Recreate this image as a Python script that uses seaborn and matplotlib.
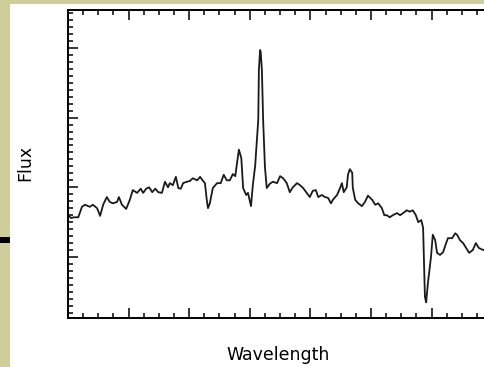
import pandas as pd
import seaborn as sns
import matplotlib.pyplot as plt
from matplotlib.patches import Rectangle
from matplotlib.ticker import MultipleLocator

# spectrum (arbitrary units)
wavelength = [0.00, 0.05, 0.10, 0.17, 0.23, 0.28, 0.36, 0.41, 0.48, 0.53, 0.58, 0.64, 0.69, 0.74,
              0.81, 0.84, 0.89, 0.96, 1.02, 1.07, 1.14, 1.20, 1.24, 1.29, 1.34, 1.39, 1.44, 1.49,
              1.55, 1.60, 1.65, 1.68, 1.73, 1.78, 1.82, 1.86, 1.90, 1.96, 2.01, 2.06, 2.13, 2.18,
              2.23, 2.26, 2.29, 2.31, 2.34, 2.39, 2.46, 2.52, 2.57, 2.62, 2.67, 2.72, 2.76, 2.79,
              2.82, 2.86, 2.89, 2.94, 2.97, 3.02, 3.05, 3.09, 3.10, 3.14, 3.15, 3.17, 3.18, 3.20,
              3.22, 3.25, 3.28, 3.33, 3.38, 3.45, 3.50, 3.55, 3.61, 3.66, 3.71, 3.78, 3.83, 3.88,
              3.94, 3.99, 4.04, 4.09, 4.13, 4.19, 4.24, 4.29, 4.34, 4.37, 4.44, 4.49, 4.52, 4.55,
              4.60, 4.62, 4.65, 4.69, 4.70, 4.74, 4.79, 4.85, 4.90, 4.95, 5.02, 5.07, 5.12, 5.18,
              5.22, 5.26, 5.31, 5.36, 5.43, 5.48, 5.53, 5.59, 5.64, 5.69, 5.74, 5.78, 5.83, 5.86,
              5.89, 5.91, 5.94, 5.99, 6.02, 6.06, 6.09, 6.14, 6.19, 6.24, 6.27, 6.34, 6.39, 6.42,
              6.47, 6.52, 6.57, 6.62, 6.68, 6.73, 6.78, 6.85, 6.93, 7.03]
flux = [1.60, 1.56, 1.57, 1.57, 1.72, 1.75, 1.72, 1.75, 1.70, 1.59, 1.75, 1.86, 1.79, 1.77,
        1.79, 1.86, 1.75, 1.69, 1.82, 1.96, 1.92, 1.98, 1.92, 1.98, 2.00, 1.93, 1.98, 1.93,
        1.92, 2.08, 2.00, 2.06, 2.03, 2.15, 1.99, 1.98, 2.06, 2.08, 2.09, 2.13, 2.10, 2.15,
        2.09, 2.06, 1.82, 1.70, 1.77, 1.99, 2.06, 2.06, 2.18, 2.10, 2.10, 2.19, 2.16, 2.35,
        2.54, 2.42, 1.99, 1.89, 1.92, 1.73, 2.03, 2.32, 2.46, 2.97, 3.68, 3.97, 3.94, 3.68,
        2.97, 2.29, 1.99, 2.05, 2.08, 2.06, 2.16, 2.13, 2.06, 1.93, 2.00, 2.06, 2.03, 1.99,
        1.92, 1.86, 1.95, 1.96, 1.86, 1.89, 1.86, 1.85, 1.77, 1.82, 1.89, 1.99, 2.06, 1.93,
        2.00, 2.18, 2.26, 2.21, 1.99, 1.82, 1.77, 1.73, 1.79, 1.88, 1.82, 1.75, 1.77, 1.70,
        1.60, 1.60, 1.57, 1.60, 1.63, 1.60, 1.63, 1.67, 1.65, 1.67, 1.60, 1.50, 1.53, 1.42,
        0.43, 0.35, 0.63, 1.00, 1.32, 1.24, 1.06, 1.03, 1.07, 1.20, 1.27, 1.27, 1.34, 1.32,
        1.24, 1.20, 1.13, 1.06, 1.10, 1.20, 1.13, 1.10, 1.13, 1.07]

df = pd.DataFrame({"wavelength": wavelength, "flux": flux})

sns.set_style("ticks")
plt.rcParams["font.family"] = ["DejaVu Sans"]

fig = plt.figure(figsize=(4.85, 3.67), dpi=100, facecolor="#cfcd9c")
# white slide panel + little black bar on the left edge
fig.patches.append(Rectangle((10 / 485, 0), 1, 1 - 4 / 367, transform=fig.transFigure,
                             facecolor="white", edgecolor="none", zorder=-2))
fig.patches.append(Rectangle((0, 124 / 367), 10 / 485, 6 / 367, transform=fig.transFigure,
                             facecolor="black", edgecolor="none", zorder=-1))

# axes run past the right edge, like the cropped original
ax = fig.add_axes([68 / 485, 49 / 367, 426 / 485, 308 / 367])
ax.set_facecolor("none")
sns.lineplot(data=df, x="wavelength", y="flux", sort=False, color="#1a1a1a",
             linewidth=1.3, ax=ax)

ax.set_xlim(0, 7.03)
ax.set_ylim(0.125, 4.544)
ax.xaxis.set_major_locator(MultipleLocator(1))
ax.xaxis.set_minor_locator(MultipleLocator(0.25))
ax.yaxis.set_major_locator(MultipleLocator(1))
ax.yaxis.set_minor_locator(MultipleLocator(0.1))
ax.tick_params(which="both", direction="in", top=True, right=True,
               labelbottom=False, labelleft=False, color="black", width=1.1)
ax.tick_params(which="major", length=7)
ax.tick_params(which="minor", length=3.5)
for s in ax.spines.values():
    s.set_linewidth(1.4)
    s.set_color("black")
ax.set_xlabel("")
ax.set_ylabel("")

fig.text(278 / 485, 1 - 355 / 367, "Wavelength", ha="center", va="center",
         fontsize=12.5, color="black")
fig.text(25 / 485, 1 - 163 / 367, "Flux", ha="center", va="center", rotation=90,
         fontsize=12.5, color="black")

fig.savefig("out.png", dpi=100, facecolor=fig.get_facecolor())
